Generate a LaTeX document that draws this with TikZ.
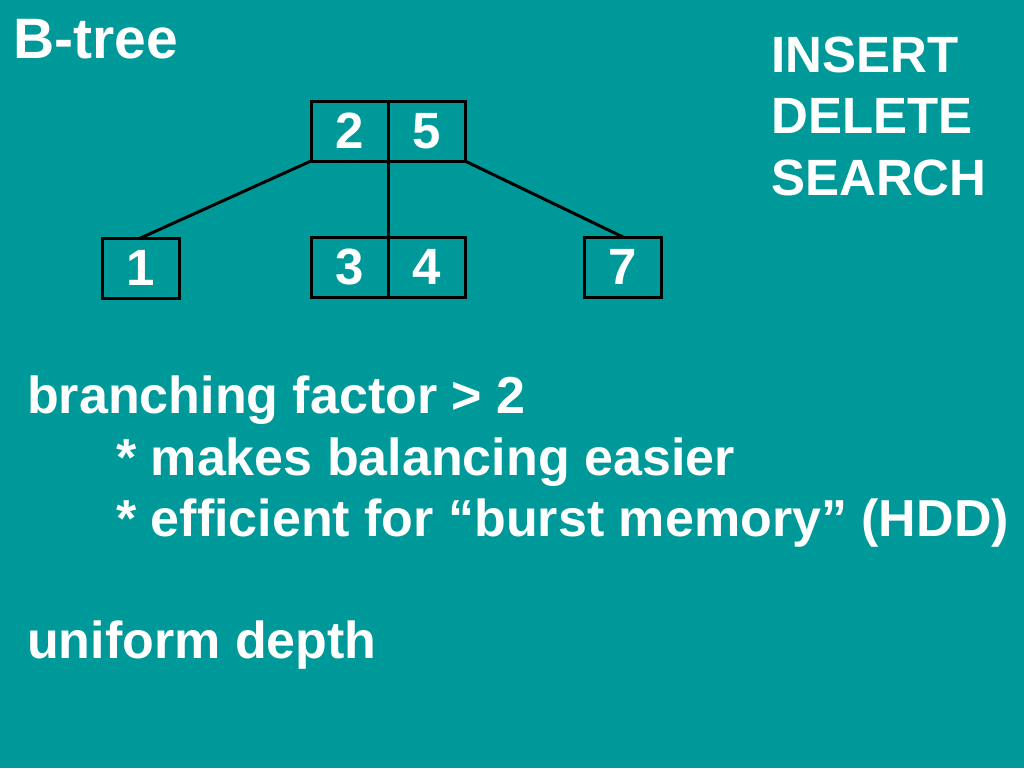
\documentclass[tikz,border=0pt]{standalone}
\usepackage{fontspec}
\setmainfont{Liberation Sans}
\usetikzlibrary{positioning}
\definecolor{slidebg}{RGB}{0,153,153}

\tikzset{
    cell/.style={draw=black,line width=3pt,minimum width=77pt,minimum height=60pt,
        inner sep=0pt,outer sep=0pt,text=white,font=\bfseries\fontsize{51}{61.5}\selectfont},
    link/.style={line width=3pt,black},
    slidetext/.style={inner sep=0pt,anchor=base west,text=white,
        font=\bfseries\fontsize{51}{61.5}\selectfont},
    notetext/.style={slidetext,font=\bfseries\fontsize{52}{61.5}\selectfont}
}

\begin{document}
\begin{tikzpicture}[x=1pt,y=-1pt]
    \fill[slidebg] (0,0) rectangle (1024,768);
    \useasboundingbox (0,0) rectangle (1024,768);
    % title
    \node[slidetext,font=\bfseries\fontsize{57}{64}\selectfont] (title) at (13,59) {B-tree};
    % tree
    \node[cell] (r2) at (349.5,131) {2};
    \node[cell,right=0pt of r2] (r5) {5};
    \node[cell] (l1) at (140.5,268) {1};
    \node[cell] (l3) at (349.5,267) {3};
    \node[cell,right=0pt of l3] (l4) {4};
    \node[cell] (l7) at (623,267) {7};
    \draw[link] (r2.south west) -- (l1.north);
    \draw[link] (r2.south east) -- (l3.north east);
    \draw[link] (r5.south east) -- (l7.north);
    % operations
    \node[slidetext] (ins) at (771,72) {INSERT};
    \node[slidetext] (del) at (771,133.5) {DELETE};
    \node[slidetext] (sea) at (771,195) {SEARCH};
    % notes
    \node[notetext] (branch) at (27,413) {branching factor > 2};
    \node[notetext] (easier) at (116,475) {* makes balancing easier};
    \node[notetext] (burst) at (116,536) {* efficient for “burst memory” (HDD)};
    \node[notetext] (depth) at (27,658) {uniform depth};
\end{tikzpicture}
\end{document}
